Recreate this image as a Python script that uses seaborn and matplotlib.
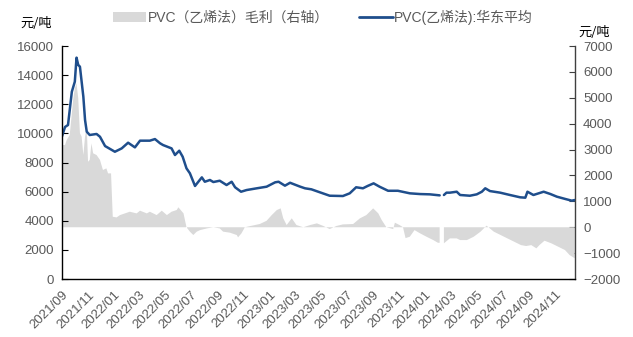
import numpy as np
import pandas as pd
import matplotlib
matplotlib.use("Agg")
import matplotlib.pyplot as plt
import matplotlib.dates as mdates
from matplotlib.patches import Patch
from matplotlib.lines import Line2D
import seaborn as sns

# ---------------- data ----------------
price_dates = [
    "2021-09-01", "2021-09-08", "2021-09-15", "2021-09-24", "2021-10-01", "2021-10-05",
    "2021-10-09", "2021-10-13", "2021-10-21", "2021-10-25", "2021-10-29", "2021-11-05",
    "2021-11-21", "2021-11-29", "2021-12-11", "2022-01-03", "2022-01-19", "2022-02-03",
    "2022-02-19", "2022-03-03", "2022-03-26", "2022-04-07", "2022-04-19", "2022-04-26",
    "2022-05-16", "2022-05-24", "2022-06-03", "2022-06-11", "2022-06-20", "2022-06-28",
    "2022-07-10", "2022-07-26", "2022-08-02", "2022-08-14", "2022-08-22", "2022-09-06",
    "2022-09-22", "2022-10-04", "2022-10-12", "2022-10-26", "2022-11-08", "2022-12-02",
    "2022-12-25", "2023-01-14", "2023-01-22", "2023-02-06", "2023-02-18", "2023-03-13",
    "2023-03-25", "2023-04-09", "2023-04-25", "2023-05-22", "2023-06-22", "2023-07-08",
    "2023-07-23", "2023-08-08", "2023-08-19", "2023-09-02", "2023-09-16", "2023-10-06",
    "2023-10-29", "2023-11-26", "2023-12-20", "2024-01-12", "2024-02-04",
    "2024-02-14", "2024-02-20", "2024-02-28", "2024-03-15", "2024-03-23", "2024-04-15",
    "2024-05-01", "2024-05-13", "2024-05-21", "2024-06-01", "2024-06-25", "2024-07-18",
    "2024-08-11", "2024-08-23", "2024-08-28", "2024-09-11", "2024-10-05", "2024-10-21",
    "2024-11-05", "2024-11-25", "2024-12-10", "2024-12-17",
]
price_values = [
    9800, 10440, 10575, 12860, 13550, 15200,
    14700, 14580, 12520, 10920, 10115, 9890,
    9960, 9770, 9130, 8740, 8970, 9360,
    9040, 9500, 9500, 9610, 9320, 9200,
    8970, 8515, 8810, 8400, 7600, 7260,
    6390, 6980, 6680, 6800, 6660, 6750,
    6455, 6680, 6300, 5995, 6110, 6230,
    6340, 6640, 6680, 6410, 6610, 6350,
    6230, 6160, 5995, 5720, 5700, 5885,
    6300, 6230, 6390, 6570, 6340, 6060,
    6060, 5885, 5835, 5815, 5745,
    5770, 5930, 5930, 5995, 5770, 5720,
    5815, 5995, 6230, 6040, 5930, 5770,
    5610, 5585, 5995, 5770, 5995, 5835,
    5655, 5495, 5380, 5425,
]
# segment id: the series breaks over the 2024 Spring Festival
price_segment = [1] * 65 + [2] * 22

margin_dates = [
    "2021-09-01", "2021-09-08", "2021-09-12", "2021-09-19", "2021-09-27", "2021-10-01",
    "2021-10-05", "2021-10-09", "2021-10-13", "2021-10-17", "2021-10-21", "2021-10-25",
    "2021-10-29", "2021-11-01", "2021-11-05", "2021-11-09", "2021-11-13", "2021-11-21",
    "2021-11-29", "2021-12-06", "2021-12-14", "2021-12-18", "2021-12-25", "2021-12-29",
    "2022-01-07", "2022-01-15", "2022-02-07", "2022-02-23", "2022-03-03", "2022-03-19",
    "2022-03-26", "2022-04-11", "2022-04-23", "2022-05-05", "2022-05-16", "2022-05-28",
    "2022-06-01", "2022-06-13", "2022-06-20", "2022-06-28", "2022-07-06", "2022-07-14",
    "2022-07-22", "2022-08-07", "2022-08-22", "2022-09-06", "2022-09-14", "2022-09-30",
    "2022-10-16", "2022-10-19", "2022-10-27", "2022-11-04", "2022-11-16", "2022-12-09",
    "2022-12-25", "2023-01-06", "2023-01-18", "2023-01-27", "2023-02-02", "2023-02-10",
    "2023-02-22", "2023-03-05", "2023-03-21", "2023-04-06", "2023-04-22", "2023-05-07",
    "2023-05-22", "2023-06-07", "2023-06-22", "2023-07-16", "2023-08-01", "2023-08-16",
    "2023-08-28", "2023-09-01", "2023-09-13", "2023-09-21", "2023-10-02", "2023-10-18",
    "2023-10-22", "2023-11-02", "2023-11-10", "2023-11-16", "2023-11-26", "2023-12-07",
    "2023-12-20", "2024-01-04", "2024-01-20", "2024-01-31", "2024-02-04",
    "2024-02-05", "2024-02-13",
    "2024-02-14", "2024-02-28", "2024-03-15", "2024-03-23", "2024-04-08", "2024-04-24",
    "2024-05-10", "2024-05-24", "2024-06-10", "2024-07-04", "2024-07-28", "2024-08-13",
    "2024-08-25", "2024-09-06", "2024-09-18", "2024-09-25", "2024-10-07", "2024-10-23",
    "2024-11-08", "2024-11-24", "2024-12-05", "2024-12-17",
]
margin_values = [
    3175, 3175, 3370, 3560, 4910, 5365,
    5560, 4980, 3630, 3500, 2790, 3500,
    3880, 2530, 2600, 3240, 2855, 2790,
    2600, 2210, 2275, 2080, 2080, 405,
    380, 470, 600, 535, 640, 535,
    600, 470, 640, 470, 600, 665,
    770, 537, 0, -170, -300, -170,
    -110, -45, 0, -45, -170, -210,
    -300, -390, -235, 0, 45, 125,
    250, 470, 665, 730, 345, 85,
    345, 85, 0, 85, 150, 50,
    -70, 50, 110, 125, 345, 470,
    665, 730, 537, 280, 0, -70,
    175, 85, 0, -420, -365, -110,
    -235, -365, -495, -600, -600,
    np.nan, np.nan,
    -620, -430, -430, -495, -495, -365,
    -170, 60, -170, -365, -560, -690,
    -725, -690, -815, -690, -520, -620,
    -750, -880, -1075, -1200,
]

left_ticks = [0, 2000, 4000, 6000, 8000, 10000, 12000, 14000, 16000]
right_ticks = [-2000, -1000, 0, 1000, 2000, 3000, 4000, 5000, 6000, 7000]
x_start, x_end = "2021-09-01", "2024-12-17"
x_tick_dates = pd.date_range("2021-09-01", "2024-11-01", freq="2MS")

label_margin = "PVC（乙烯法）毛利（右轴）"
label_price = "PVC(乙烯法):华东平均"
unit = "元/吨"

# ---------------- styling ----------------
sns.set_style("white")
plt.rcParams["font.family"] = ["Liberation Sans", "Noto Sans CJK SC", "DejaVu Sans"]
plt.rcParams["axes.unicode_minus"] = True

BLUE = "#1F4E8C"
GRAY = "#D9D9D9"
TXT = "#595959"

price_df = pd.DataFrame({"date": pd.to_datetime(price_dates),
                         "price": price_values, "seg": price_segment})
margin_df = pd.DataFrame({"date": pd.to_datetime(margin_dates), "margin": margin_values})

fig = plt.figure(figsize=(6.33, 3.37), dpi=100)
ax = fig.add_axes([0.098, 0.172, 0.81, 0.6915])
ax2 = ax.twinx()

# margin area on right axis (drawn behind the price line)
ax2.fill_between(margin_df["date"], margin_df["margin"], 0, color=GRAY, linewidth=0)
ax2.set_ylim(-2000, 7000)
ax2.set_yticks(right_ticks)

# price line on left axis
ax.set_zorder(ax2.get_zorder() + 1)
ax.patch.set_visible(False)
sns.lineplot(data=price_df, x="date", y="price", units="seg", estimator=None,
             color=BLUE, linewidth=1.8, ax=ax, legend=False)
ax.set_ylim(0, 16000)
ax.set_yticks(left_ticks)
ax.set_xlim(pd.Timestamp(x_start), pd.Timestamp(x_end))
ax.set_xticks(x_tick_dates)
ax.xaxis.set_major_formatter(mdates.DateFormatter("%Y/%m"))
ax.set_xlabel("")
ax.set_ylabel("")

for lab in ax.get_xticklabels():
    lab.set_rotation(45)
    lab.set_ha("right")
    lab.set_rotation_mode("anchor")

ax.tick_params(axis="y", direction="in", length=4, colors="black", labelcolor=TXT,
               labelsize=9.5, pad=6, width=0.8)
ax.tick_params(axis="x", direction="out", length=4, colors="black", labelcolor=TXT,
               labelsize=9.5, pad=3, width=0.8)
ax2.tick_params(axis="y", direction="in", length=4, colors="#404040", labelcolor=TXT,
                labelsize=9.5, pad=6, width=0.8)

for a in (ax, ax2):
    a.spines["top"].set_visible(False)
ax.spines["left"].set_color("black")
ax.spines["bottom"].set_color("black")
ax2.spines["right"].set_color("#404040")
ax2.spines["left"].set_visible(False)
ax2.spines["bottom"].set_visible(False)
for s in ("left", "bottom"):
    ax.spines[s].set_linewidth(1.0)
ax2.spines["right"].set_linewidth(1.0)
ax.spines["right"].set_visible(False)

handles = [Patch(facecolor=GRAY, edgecolor="none"),
           Line2D([0], [0], color=BLUE, linewidth=2)]
fig.legend(handles, [label_margin, label_price], ncol=2, frameon=False,
           loc="center", bbox_to_anchor=(0.51, 0.948), fontsize=10,
           handlelength=2.4, handletextpad=0.1, columnspacing=2.2,
           labelcolor=TXT)

fig.text(0.057, 0.93, unit, fontsize=9.5, ha="center", va="center",
         color="black", family=["Noto Sans CJK SC"])
fig.text(0.938, 0.905, unit, fontsize=9.5, ha="center", va="center",
         color="black", family=["Noto Sans CJK SC"])

fig.savefig("out.png", dpi=100)
